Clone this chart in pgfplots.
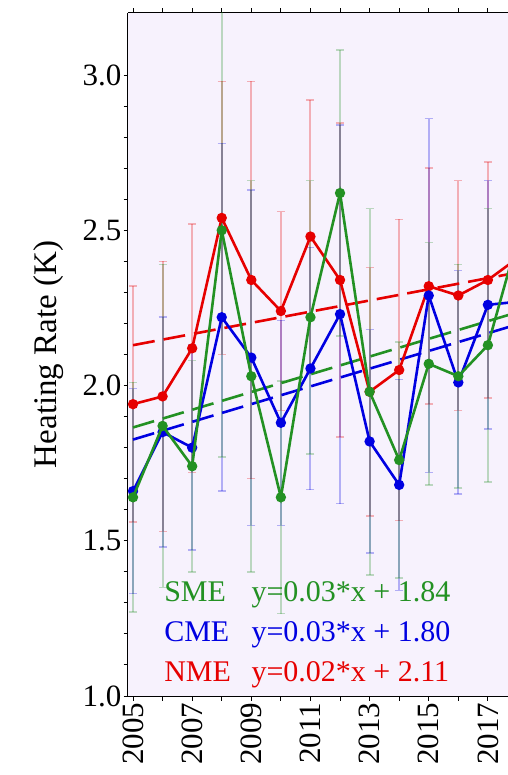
\documentclass[border=0pt]{standalone}
\usepackage{fontspec}
\setmainfont{Liberation Serif}
\usepackage{pgfplots}
\usepackage{pgfplotstable}
\pgfplotsset{compat=1.18}

\definecolor{bgcol}{RGB}{247,242,253}
\definecolor{nmecol}{RGB}{230,0,0}
\definecolor{cmecol}{RGB}{0,0,225}
\definecolor{smecol}{RGB}{35,145,35}

% year, mean heating rate, standard deviation
\pgfplotstableread{
year val err
2005 1.64  0.37
2006 1.87  0.52
2007 1.74  0.34
2008 2.50  0.73
2009 2.03  0.63
2010 1.64  0.375
2011 2.22  0.44
2012 2.62  0.46
2013 1.98  0.59
2014 1.76  0.38
2015 2.07  0.39
2016 2.03  0.36
2017 2.13  0.44
2018 2.47  0
}\sme
\pgfplotstableread{
year val err
2005 1.66  0.33
2006 1.85  0.37
2007 1.80  0.33
2008 2.22  0.56
2009 2.09  0.54
2010 1.88  0.33
2011 2.055 0.39
2012 2.23  0.61
2013 1.82  0.36
2014 1.68  0.34
2015 2.29  0.57
2016 2.01  0.36
2017 2.26  0.40
2018 2.27  0
}\cme
\pgfplotstableread{
year val err
2005 1.94  0.38
2006 1.965 0.435
2007 2.12  0.40
2008 2.54  0.44
2009 2.34  0.64
2010 2.24  0.32
2011 2.48  0.44
2012 2.34  0.505
2013 1.98  0.40
2014 2.05  0.485
2015 2.32  0.38
2016 2.29  0.37
2017 2.34  0.38
2018 2.41  0
}\nme

\pgfplotsset{
  errbars/.style={forget plot, draw=none, mark=none,
    error bars/.cd, y dir=both, y explicit,
    error mark=-,
    error bar style={draw=#1, draw opacity=0.28, line width=2bp},
    error mark options={draw=#1, draw opacity=0.28, line width=1.5bp,
      mark size=4bp, rotate=90}},
  series/.style={draw=#1, line width=2.6bp, mark=*,
    mark size=3.8bp, mark options={solid, draw=#1, fill=#1}},
  trend/.style={draw=#1, line width=2.6bp, dash pattern=on 22bp off 9bp, mark=none, forget plot},
}

\begin{document}
\begin{tikzpicture}
\path[use as bounding box] (-128bp,-79bp) rectangle (380bp,696bp);
\begin{axis}[
  at={(0,0)}, anchor=south west,
  scale only axis, width=380bp, height=683bp,
  xmin=2004.83, xmax=2017.68, ymin=1.0, ymax=3.2,
  axis x line=box, axis y line=left,
  axis line style={-, black, line width=1bp},
  every outer y axis line/.append style={-},
  axis background/.style={fill=bgcol},
  clip marker paths=true,
  xtick={2005,2007,...,2017}, minor xtick={2006,2008,...,2018},
  ytick={1.0,1.5,...,3.0}, minor y tick num=4,
  tick align=outside, major tick length=4.5bp, minor tick length=4.5bp,
  every tick/.style={black, line width=1bp},
  /pgf/number format/assume math mode=true,
  tick label style={font=\fontsize{31bp}{36bp}\selectfont},
  xticklabel style={rotate=90, anchor=east, inner sep=2bp,
    /pgf/number format/1000 sep={}},
  yticklabel style={inner sep=2bp,
    /pgf/number format/.cd, fixed, fixed zerofill, precision=1},
  ylabel={Heating Rate (K)},
  ylabel style={font=\fontsize{33bp}{38bp}\selectfont,
    at={(axis description cs:-0.21,0.5)}, anchor=center},
]
% standard deviations
\addplot[errbars=nmecol] table[x=year, y=val, y error=err] {\nme};
\addplot[errbars=cmecol] table[x=year, y=val, y error=err] {\cme};
\addplot[errbars=smecol] table[x=year, y=val, y error=err] {\sme};

% linear trends
\addplot[trend=nmecol] coordinates {(2005,2.13) (2018,2.364)};
\addplot[trend=cmecol] coordinates {(2005,1.826) (2018,2.197)};
\addplot[trend=smecol] coordinates {(2005,1.865) (2018,2.236)};

% yearly means
\addplot[series=nmecol] table[x=year, y=val] {\nme};
\addplot[series=cmecol] table[x=year, y=val] {\cme};
\addplot[series=smecol] table[x=year, y=val] {\sme};

\begin{scope}[every node/.style={anchor=base west, inner sep=0pt,
    font=\fontsize{30bp}{34bp}\selectfont}]
\node[text=smecol] at (axis cs:2006.05,1.303) {SME};
\node[text=smecol] at (axis cs:2009.0,1.303) {y=0.03*x + 1.84};
\node[text=cmecol] at (axis cs:2006.05,1.177) {CME};
\node[text=cmecol] at (axis cs:2009.0,1.177) {y=0.03*x + 1.80};
\node[text=nmecol] at (axis cs:2006.05,1.048) {NME};
\node[text=nmecol] at (axis cs:2009.0,1.048) {y=0.02*x + 2.11};
\end{scope}
\end{axis}
\end{tikzpicture}
\end{document}
